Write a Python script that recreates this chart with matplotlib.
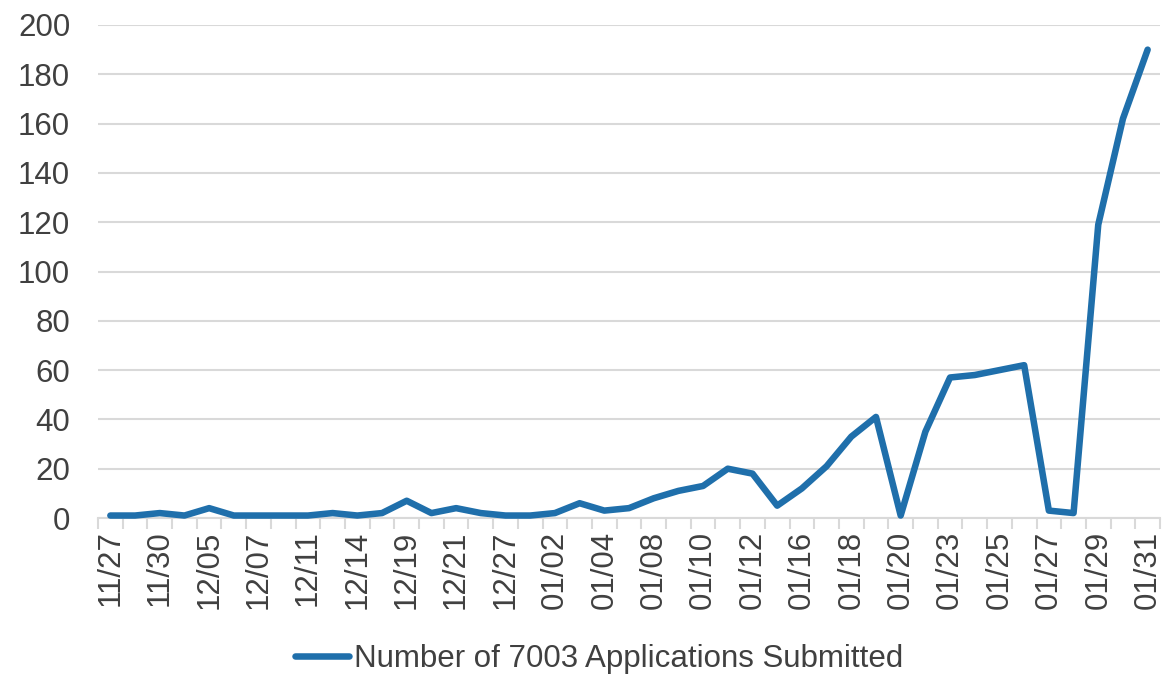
import matplotlib.pyplot as plt
import numpy as np

# Daily counts (43 days, every other one labelled)
applications = [1, 1, 2, 1, 4, 1, 1, 1, 1, 2, 1, 2, 7, 2, 4, 2,
                1, 1, 2, 6, 3, 4, 8, 11, 13, 20, 18, 5, 12, 21, 33, 41,
                1, 35, 57, 58, 60, 62, 3, 2, 119, 162, 190]
tick_labels = ['11/27', '11/30', '12/05', '12/07', '12/11', '12/14', '12/19',
               '12/21', '12/27', '01/02', '01/04', '01/08', '01/10', '01/12',
               '01/16', '01/18', '01/20', '01/23', '01/25', '01/27', '01/29',
               '01/31']
y_ticks = [0, 20, 40, 60, 80, 100, 120, 140, 160, 180, 200]

line_color = '#1f6fab'
grid_color = '#d9d9d9'
text_color = '#404040'
fs = 22.5

plt.rcParams['font.family'] = ['Liberation Sans', 'DejaVu Sans']

fig = plt.figure(figsize=(11.74, 6.77), dpi=100)
ax = fig.add_axes([98 / 1174, 1 - 518 / 677, (1160 - 98) / 1174, (518 - 25) / 677])

x = np.arange(len(applications))
ax.plot(x, applications, color=line_color, linewidth=4.7,
        solid_joinstyle='round', solid_capstyle='round',
        label='Number of 7003 Applications Submitted', clip_on=False, zorder=3)

# Axes limits and grid
ax.set_xlim(-0.5, len(applications) - 0.5)
ax.set_ylim(0, 200)
ax.set_yticks(y_ticks)
ax.yaxis.grid(True, color=grid_color, linewidth=1.5)
ax.set_axisbelow(True)

for side in ['left', 'right', 'top']:
    ax.spines[side].set_visible(False)
ax.spines['bottom'].set_color(grid_color)
ax.spines['bottom'].set_linewidth(1.5)

# Category labels on every other day, tick marks between days
ax.set_xticks(x[::2])
ax.set_xticklabels(tick_labels, rotation=90)
ax.set_xticks(np.arange(len(applications) + 1) - 0.5, minor=True)
ax.tick_params(axis='x', which='major', length=0, pad=9,
               labelsize=fs, labelcolor=text_color)
ax.tick_params(axis='x', which='minor', length=8, width=1.5, color=grid_color)
ax.tick_params(axis='y', length=0, pad=20, labelsize=fs, labelcolor=text_color)

fig.legend(loc='center', bbox_to_anchor=(599 / 1174, 1 - 659 / 677),
           frameon=False, fontsize=fs, handlelength=1.75, handletextpad=0.15,
           labelcolor=text_color)

fig.savefig('out.png', dpi=100)
